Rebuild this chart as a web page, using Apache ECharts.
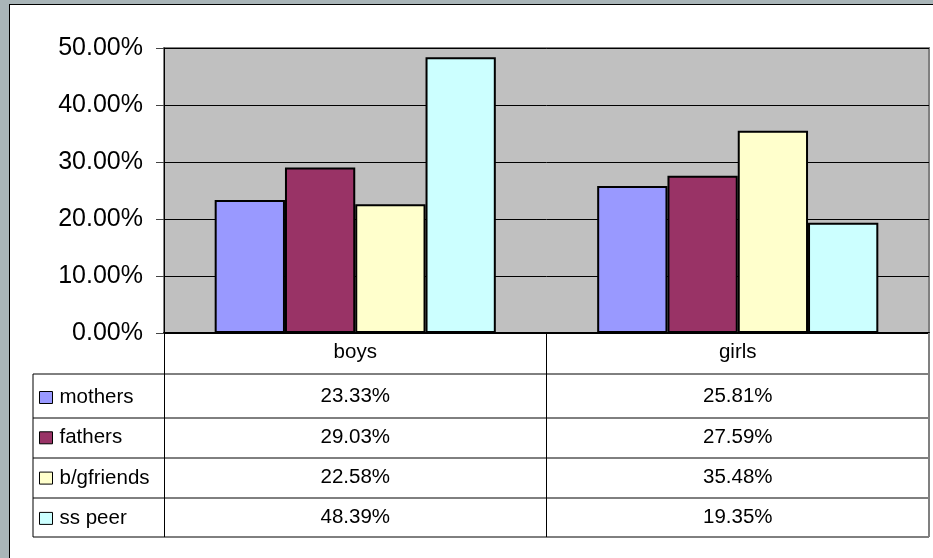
<!DOCTYPE html>
<html>
<head>
<meta charset="utf-8">
<script src="https://cdn.jsdelivr.net/npm/echarts@6/dist/echarts.min.js"></script>
<style>
  html, body { margin: 0; padding: 0; background: #a9b5b8; overflow: hidden; }
  #frame { position: absolute; left: 9px; top: 4px; width: 940px; height: 570px; background: #fff; border: 1px solid #000; }
  #chart { position: absolute; left: 0; top: 0; width: 933px; height: 558px; }
</style>
</head>
<body>
<div id="frame"></div>
<div id="chart"></div>
<script>
// data
const categories = ['boys', 'girls']
const seriesNames = ['mothers', 'fathers', 'b/gfriends', 'ss peer']
const mothers = [23.33, 25.81]
const fathers = [29.03, 27.59]
const bgfriends = [22.58, 35.48]
const ssPeer = [48.39, 19.35]
const yTicks = [0, 10, 20, 30, 40, 50]

const values = [mothers, fathers, bgfriends, ssPeer]
const colors = ['#9999ff', '#993366', '#ffffcc', '#ccffff']

// layout of plot + data table
const GRID_LEFT = 164
const GRID_RIGHT = 4
const GRID_TOP = 48
const AXIS_Y = 333
const TABLE_LEFT = 33
const ROW_LINES = [374, 418, 458, 498, 537]
const ROW_CENTERS = [396, 437, 477, 517]
const FONT = '"Liberation Sans", Arial, sans-serif'

const fmt = (v) => v.toFixed(2) + '%'

const chart = echarts.init(document.getElementById('chart'), null, { renderer: 'canvas' })

// one extra category axis per table row, used only for its labels
const rowAxes = values.map((vals, i) => ({
  type: 'category',
  data: categories,
  position: 'bottom',
  axisLine: { show: false },
  axisTick: { show: false },
  axisLabel: {
    interval: 0,
    margin: ROW_CENTERS[i] - 10 - AXIS_Y,
    color: '#000',
    fontFamily: FONT,
    fontSize: 20.5,
    lineHeight: 20,
    formatter: (val, idx) => fmt(vals[idx]),
  },
}))

const gridRightX = 933 - GRID_RIGHT
const tableLines = []
ROW_LINES.forEach((y) => {
  tableLines.push({
    type: 'line', silent: true, z: 10,
    shape: { x1: TABLE_LEFT, y1: y, x2: gridRightX, y2: y },
    style: { stroke: '#000', lineWidth: 1 },
  })
})
tableLines.push({
  type: 'line', silent: true, z: 10,
  shape: { x1: TABLE_LEFT, y1: ROW_LINES[0], x2: TABLE_LEFT, y2: ROW_LINES[ROW_LINES.length - 1] },
  style: { stroke: '#000', lineWidth: 1 },
})
tableLines.push({
  type: 'line', silent: true, z: 10,
  shape: { x1: gridRightX, y1: AXIS_Y, x2: gridRightX, y2: ROW_LINES[ROW_LINES.length - 1] },
  style: { stroke: '#808080', lineWidth: 2 },
})

chart.setOption({
  animation: false,
  backgroundColor: 'transparent',
  textStyle: { fontFamily: FONT },
  grid: {
    left: GRID_LEFT,
    right: GRID_RIGHT,
    top: GRID_TOP,
    bottom: 558 - AXIS_Y,
    show: true,
    backgroundColor: '#c0c0c0',
    borderColor: '#808080',
    borderWidth: 2,
  },
  legend: {
    orient: 'vertical',
    left: 39,
    top: ROW_CENTERS[0] - 9,
    padding: 0,
    itemWidth: 13,
    itemHeight: 12,
    itemGap: 19.3,
    icon: 'rect',
    selectedMode: false,
    data: seriesNames,
    itemStyle: { borderColor: '#000', borderWidth: 1 },
    textStyle: { color: '#000', fontFamily: FONT, fontSize: 20.5, lineHeight: 20, padding: [0, 0, 0, 2] },
  },
  xAxis: [
    {
      type: 'category',
      data: categories,
      position: 'bottom',
      axisLine: { show: true, lineStyle: { color: '#000', width: 2 } },
      axisTick: { show: true, interval: 0, length: ROW_LINES[ROW_LINES.length - 1] - AXIS_Y, lineStyle: { color: '#000', width: 1 } },
      axisLabel: { interval: 0, margin: 9, color: '#000', fontFamily: FONT, fontSize: 20.5, lineHeight: 20 },
    },
    ...rowAxes,
  ],
  yAxis: {
    type: 'value',
    min: yTicks[0],
    max: yTicks[yTicks.length - 1],
    interval: yTicks[1] - yTicks[0],
    axisLine: { show: true, lineStyle: { color: '#000', width: 1 } },
    axisTick: { show: true, length: 8, lineStyle: { color: '#444' } },
    splitLine: { show: true, lineStyle: { color: '#000', width: 1 } },
    axisLabel: { margin: 21, color: '#000', fontFamily: FONT, fontSize: 25, formatter: (v) => fmt(v) },
  },
  graphic: tableLines,
  series: values.map((vals, i) => ({
    name: seriesNames[i],
    type: 'bar',
    xAxisIndex: 0,
    data: vals,
    barGap: '0%',
    barCategoryGap: '26.5%',
    itemStyle: { color: colors[i], borderColor: '#000', borderWidth: 2 },
  })),
})
</script>
</body>
</html>
